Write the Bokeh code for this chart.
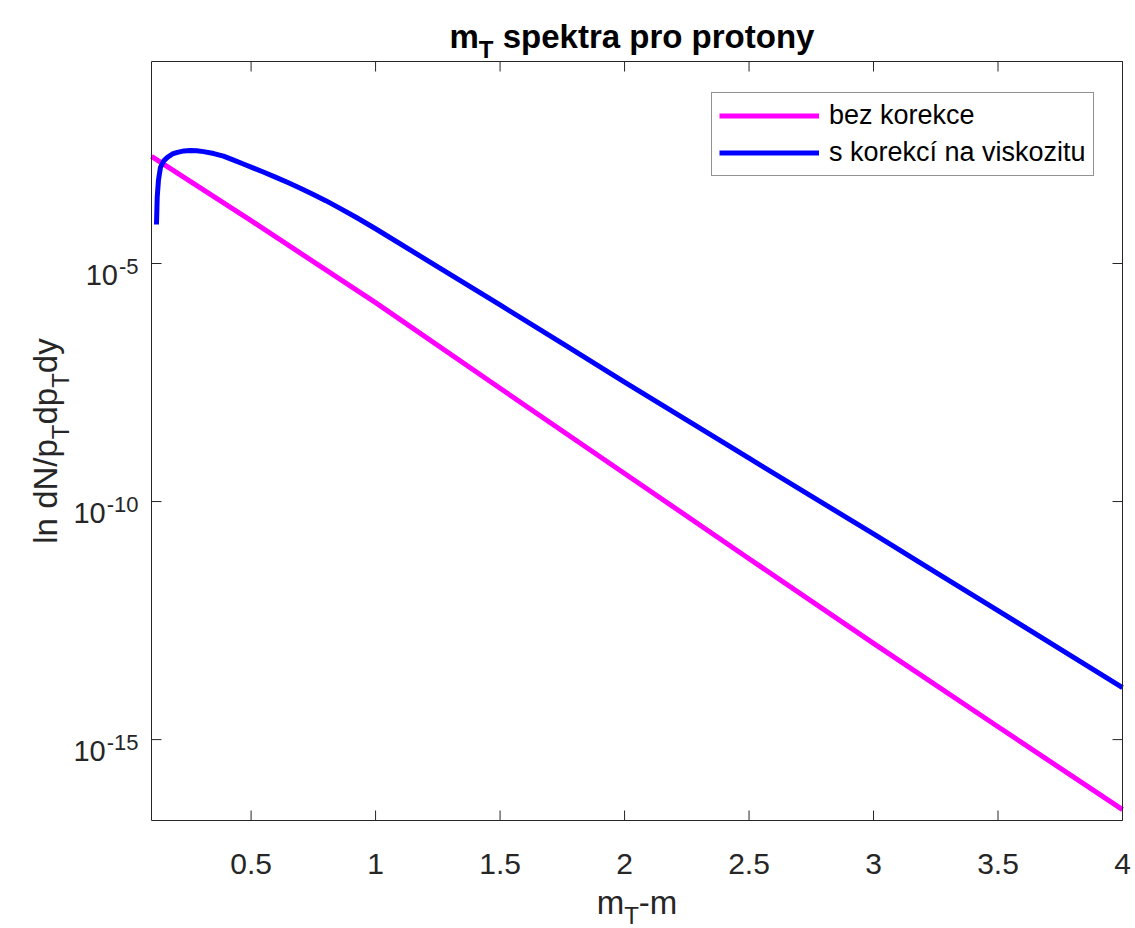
import math
from bokeh.plotting import figure
from bokeh.models import Range1d, Legend, LegendItem
from bokeh.core.properties import value
from bokeh.embed import file_html
from bokeh.resources import INLINE

# ---------------- data ----------------
x_plain = [0.1, 0.5, 1.0, 1.5, 2.0, 2.5, 3.0, 3.5, 4.0]
y_plain = [1.78e-3, 7.94e-5, 1.51e-6, 2.40e-8, 3.89e-10, 6.31e-12, 1.05e-13, 1.86e-15, 3.39e-17]

x_visc = [0.12, 0.123, 0.128, 0.136, 0.15, 0.164, 0.184, 0.204, 0.23, 0.256, 0.282, 0.309,
          0.35, 0.389, 0.43, 0.469, 0.51, 0.549, 0.6, 0.65, 0.7, 0.75, 0.8, 0.85, 0.925,
          1.0, 1.25, 1.5, 1.75, 2.0, 2.25, 2.5, 2.75, 3.0, 3.25, 3.5, 3.75, 4.0]
y_visc = [6.61e-5, 2.51e-4, 5.62e-4, 1.05e-3, 1.45e-3, 1.70e-3, 2.00e-3, 2.16e-3, 2.32e-3,
          2.37e-3, 2.33e-3, 2.24e-3, 2.04e-3, 1.80e-3, 1.48e-3, 1.23e-3, 1.01e-3, 8.36e-4,
          6.46e-4, 4.95e-4, 3.76e-4, 2.82e-4, 2.09e-4, 1.51e-4, 9.12e-5, 5.37e-5, 8.51e-6,
          1.35e-6, 2.09e-7, 3.24e-8, 5.13e-9, 8.13e-10, 1.30e-10, 2.09e-11, 3.27e-12,
          5.13e-13, 7.94e-14, 1.23e-14]

series_names = ["bez korekce", "s korekcí na viskozitu"]
series_colors = ["#FF00FF", "#0000FF"]

x_ticks = [0.5, 1.0, 1.5, 2.0, 2.5, 3.0, 3.5, 4.0]
x_tick_labels = ["0.5", "1", "1.5", "2", "2.5", "3", "3.5", "4"]
y_ticks = [1e-15, 1e-10, 1e-5]
y_tick_base = "10"
y_tick_exponents = ["-15", "-10", "-5"]

x_limits = (0.1, 4.0)
y_limits = (2.0e-17, 1.75e-1)

title_parts = ["m", "T", "spektra pro protony"]
xlabel_parts = ["m", "T", "-m"]
ylabel_parts = ["ln dN/p", "T", "dp", "T", "dy"]

# ---------------- layout constants ----------------
W, H = 1135, 928
FL, FR, FT, FB = 151, 1122, 61, 820   # plot box edges in canvas pixels
FONT = "Liberation Sans"
AX = "#262626"

# Arial / Liberation Sans advance widths (em)
ADV = {" ": 0.278, "-": 0.333, "0": 0.556, "1": 0.556, "5": 0.556, "m": 0.833,
       "T": 0.611, "l": 0.222, "n": 0.556, "d": 0.556, "N": 0.722, "/": 0.278,
       "p": 0.556, "y": 0.5}
ADV_B = {" ": 0.278, "m": 0.889, "T": 0.611, "s": 0.556, "p": 0.611, "e": 0.556,
         "k": 0.556, "t": 0.333, "r": 0.389, "a": 0.556, "o": 0.611, "n": 0.611,
         "y": 0.556}


def tw(s, size, bold=False):
    table = ADV_B if bold else ADV
    return sum(table.get(c, 0.556) for c in s) * size


# The frame covers the whole canvas; the plot box is drawn inside it, so that
# no text lies outside the frame.
ppu = (FR - FL) / (x_limits[1] - x_limits[0])
lo, hi = math.log10(y_limits[0]), math.log10(y_limits[1])
dpp = (hi - lo) / (FB - FT)
x_range = Range1d(x_limits[0] - FL / ppu, x_limits[1] + (W - FR) / ppu)
y_range = Range1d(10 ** (lo - (H - FB) * dpp), 10 ** (hi + FT * dpp))

p = figure(width=W, height=H, x_range=x_range, y_range=y_range, y_axis_type="log",
           x_axis_location=None, y_axis_location=None, output_backend="svg",
           toolbar_location=None, min_border=0)
p.title.visible = False
p.xgrid.visible = False
p.ygrid.visible = False
p.outline_line_color = None
p.background_fill_color = "white"
p.border_fill_color = "white"

X0, X1 = x_limits
Y0, Y1 = y_limits

# curves
r1 = p.line(x_plain, y_plain, line_color=series_colors[0], line_width=5, line_join="round")
r2 = p.line(x_visc, y_visc, line_color=series_colors[1], line_width=5, line_join="round")

# plot box
p.quad(left=[X0], right=[X1], bottom=[Y0], top=[Y1], fill_color=None,
       line_color=AX, line_width=1)

# ticks on all four sides, pointing inwards
nx, ny = len(x_ticks), len(y_ticks)
p.ray(x=x_ticks, y=[Y0] * nx, length=10, length_units="screen", angle=math.pi / 2,
      line_color=AX, line_width=1)
p.ray(x=x_ticks, y=[Y1] * nx, length=10, length_units="screen", angle=-math.pi / 2,
      line_color=AX, line_width=1)
p.ray(x=[X0] * ny, y=y_ticks, length=10, length_units="screen", angle=0,
      line_color=AX, line_width=1)
p.ray(x=[X1] * ny, y=y_ticks, length=10, length_units="screen", angle=math.pi,
      line_color=AX, line_width=1)

# x tick labels
TICK = 30
p.text(x=x_ticks, y=[Y0] * nx, text=x_tick_labels, text_font=value(FONT),
       text_font_size=value(f"{TICK}px"), text_color=AX, text_align="center",
       text_baseline="alphabetic", y_offset=43)

# y tick labels: "10" with a raised exponent
YMAIN, SUP = 29, 22
SUP_RIGHT = 138
p.text(x=[X0] * ny, y=y_ticks, text=y_tick_exponents, text_font=value(FONT),
       text_font_size=value(f"{SUP}px"), text_color=AX, text_align="right",
       text_baseline="alphabetic", x_offset=SUP_RIGHT - FL, y_offset=3)
p.text(x=[X0] * ny, y=y_ticks, text=[y_tick_base] * ny, text_font=value(FONT),
       text_font_size=value(f"{YMAIN}px"), text_color=AX, text_align="right",
       text_baseline="alphabetic",
       x_offset=[SUP_RIGHT - FL - tw(e, SUP) - 1 for e in y_tick_exponents],
       y_offset=11)


def piece(text, cx, cy, size, color=AX, bold=False, angle=0.0, anchor=(X0, Y1), base=(FL, FT)):
    p.text(x=[anchor[0]], y=[anchor[1]], text=[text], text_font=value(FONT),
           text_font_size=value(f"{size}px"), text_color=color,
           text_font_style="bold" if bold else "normal", text_align="left",
           text_baseline="alphabetic", angle=angle,
           x_offset=cx - base[0], y_offset=cy - base[1])


# title
TS, TSUB = 33, 24
tx, tb = 449, 36
piece(title_parts[0], tx, tb, TS, color="black", bold=True)
tx += tw(title_parts[0], TS, True)
piece(title_parts[1], tx, tb + 13, TSUB, color="black", bold=True)
tx += tw(title_parts[1], TSUB, True) + tw(" ", TS, True)
piece(title_parts[2], tx, tb, TS, color="black", bold=True)

# x label
LS, LSUB = 33, 24
total = tw(xlabel_parts[0], LS) + tw(xlabel_parts[1], LSUB) + tw(xlabel_parts[2], LS)
xx = (FL + FR) / 2 - total / 2
xb = 902
piece(xlabel_parts[0], xx, xb, LS)
xx += tw(xlabel_parts[0], LS)
piece(xlabel_parts[1], xx, xb + 13, LSUB)
xx += tw(xlabel_parts[1], LSUB)
piece(xlabel_parts[2], xx, xb, LS)

# y label (rotated, reading upwards)
sizes = [LS, LSUB, LS, LSUB, LS]
total = sum(tw(t, s) for t, s in zip(ylabel_parts, sizes))
yy = (FT + FB) / 2 + total / 2
ybase = 45
for t, s in zip(ylabel_parts, sizes):
    bx = ybase + (15 if s == LSUB else 0)
    piece(t, bx, yy, s, angle=math.pi / 2)
    yy -= tw(t, s)

# legend
LEG_LEFT, LEG_TOP, LEG_H = 711, 91, 85
legend = Legend(items=[LegendItem(label=series_names[0], renderers=[r1]),
                       LegendItem(label=series_names[1], renderers=[r2])],
                location=(LEG_LEFT, H - LEG_TOP - LEG_H), margin=0, padding=7, spacing=6,
                glyph_width=100, glyph_height=27, label_height=27, label_standoff=10,
                label_text_font=FONT, label_text_font_size="27px",
                label_text_color="black", label_text_baseline="middle",
                border_line_color=AX, border_line_width=1,
                background_fill_color="white", background_fill_alpha=1.0)
p.add_layout(legend)

open("out.html", "w").write(file_html(p, INLINE))
